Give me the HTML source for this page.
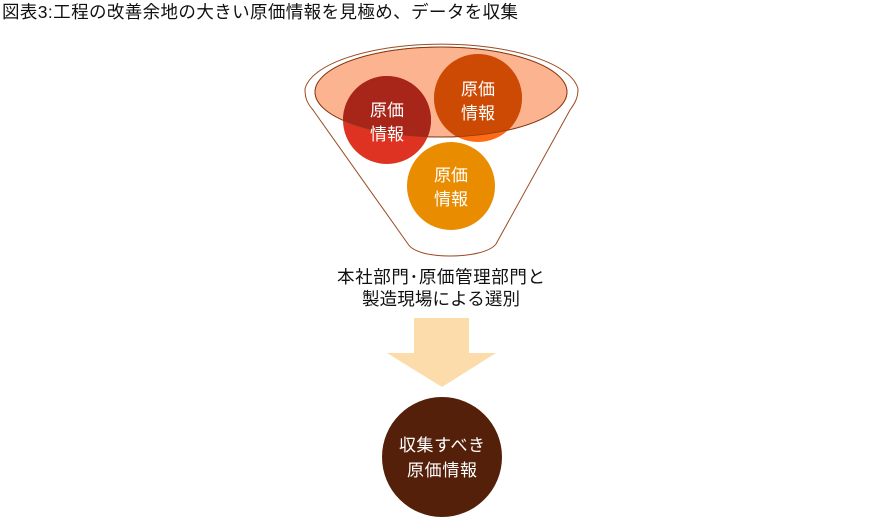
<!DOCTYPE html>
<html><head><meta charset="utf-8"><style>
html,body{margin:0;padding:0;background:#fff;width:883px;height:517px;overflow:hidden}
svg{display:block}
text{font-family:"Liberation Sans","Noto Sans CJK JP",sans-serif}
</style></head><body>
<svg width="883" height="517" viewBox="0 0 883 517" xmlns="http://www.w3.org/2000/svg">
<text x="2" y="18" font-size="17.5" fill="#111" textLength="516" lengthAdjust="spacing">図表3:工程の改善余地の大きい原価情報を見極め、データを収集</text>
<defs><clipPath id="ce"><ellipse cx="441" cy="92" rx="126" ry="45"/></clipPath></defs>
<path d="M305,89 A137,49 0 0 1 578,89 C578,98 575,103 570,110 L496,244 C490,252 470,256 450,256 C430,256 413,252 408,244 L313,110 C307,103 305,98 305,89 Z" fill="#fff" stroke="#9a4a22" stroke-width="1"/>
<ellipse cx="441" cy="92" rx="126" ry="45" fill="#fbb48f" stroke="#8a3a12" stroke-width="1"/>
<circle cx="387" cy="120" r="44" fill="#de3323"/>
<circle cx="478" cy="98" r="44" fill="#fd6b14"/>
<g clip-path="url(#ce)">
<circle cx="387" cy="120" r="44" fill="#a8251a"/>
<circle cx="478" cy="98" r="44" fill="#cd4a05"/>
</g>
<ellipse cx="441" cy="92" rx="126" ry="45" fill="none" stroke="#8a3a12" stroke-width="0.8"/>
<circle cx="451" cy="186" r="44" fill="#ea8c00"/>
<g font-size="17" fill="#fff" text-anchor="middle">
<text x="387" y="116">原価</text><text x="387" y="140">情報</text>
<text x="478" y="95">原価</text><text x="478" y="119">情報</text>
<text x="451" y="181">原価</text><text x="451" y="205">情報</text>
</g>
<g font-size="17.5" fill="#111" text-anchor="middle">
<text x="441" y="283" textLength="208" lengthAdjust="spacing">本社部門･原価管理部門と</text>
<text x="441" y="305" textLength="158" lengthAdjust="spacing">製造現場による選別</text>
</g>
<path d="M414,318 H469 V353 H496 L442,387 L387,353 H414 Z" fill="#fddcab"/>
<circle cx="442" cy="457" r="60" fill="#55200a"/>
<g font-size="17" fill="#fff" text-anchor="middle">
<text x="442" y="451" textLength="86" lengthAdjust="spacing">収集すべき</text>
<text x="442" y="476" textLength="70" lengthAdjust="spacing">原価情報</text>
</g>
</svg>
</body></html>
